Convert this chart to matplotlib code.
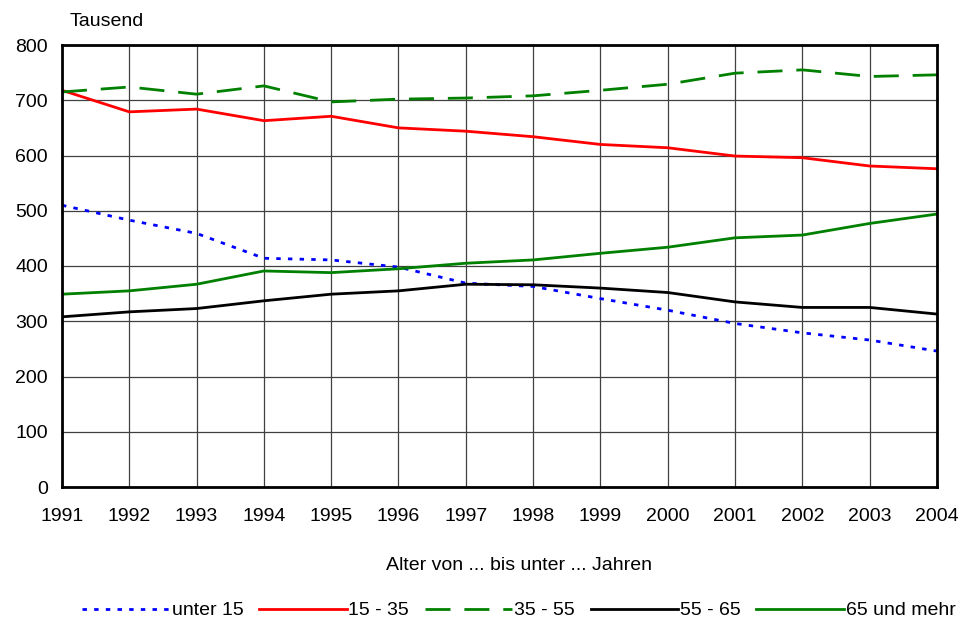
import matplotlib.pyplot as plt
import numpy as np

plt.rcParams['font.family'] = ['Liberation Sans', 'DejaVu Sans']

years = [1991, 1992, 1993, 1994, 1995, 1996, 1997, 1998, 1999, 2000, 2001, 2002, 2003, 2004]

unter15 = [510, 483, 459, 414, 411, 398, 369, 363, 341, 320, 296, 279, 266, 246]
a15_35 = [718, 679, 684, 663, 671, 650, 644, 634, 620, 614, 599, 596, 581, 576]
a35_55 = [715, 724, 711, 726, 697, 702, 704, 708, 718, 729, 749, 755, 743, 746]
a55_65 = [308, 317, 323, 337, 349, 355, 367, 366, 360, 352, 335, 325, 325, 313]
a65plus = [349, 355, 367, 391, 388, 395, 405, 411, 423, 434, 451, 456, 477, 494]

fig = plt.figure(figsize=(9.7, 6.25), dpi=100)
ax = fig.add_axes([0.0639, 0.2208, 0.902, 0.7072])

x = np.arange(len(years))
ax.plot(x, unter15, color='#0000ff', lw=2, linestyle=(0, (1.6, 2.6)), label='unter 15')
ax.plot(x, a15_35, color='#ff0000', lw=2, label='15 - 35')
ax.plot(x, a35_55, color='#008000', lw=2, linestyle=(0, (9, 5)), label='35 - 55')
ax.plot(x, a55_65, color='black', lw=2, label='55 - 65')
ax.plot(x, a65plus, color='#008000', lw=2, label='65 und mehr')

ax.set_xlim(0, len(years) - 1)
ax.set_ylim(0, 800)
ax.set_xticks(x)
ax.set_xticklabels([str(y) for y in years])
ax.set_yticks(range(0, 801, 100))
ax.tick_params(length=0, labelsize=14)
ax.tick_params(axis='x', pad=15)
ax.tick_params(axis='y', pad=10)
ax.grid(True, color='#404040', lw=0.9)
ax.set_axisbelow(True)
for s in ax.spines.values():
    s.set_linewidth(2)

fig.text(0.072, 0.965, 'Tausend', fontsize=14, ha='left', va='center')
fig.text(0.535, 0.096, 'Alter von ... bis unter ... Jahren', fontsize=14, ha='center', va='center')

fig.legend(loc='center', bbox_to_anchor=(0.535, 0.023), ncol=5, frameon=False,
           fontsize=14, handlelength=4.5, handletextpad=0.1, columnspacing=0.8)

fig.savefig('out.png', dpi=100)
